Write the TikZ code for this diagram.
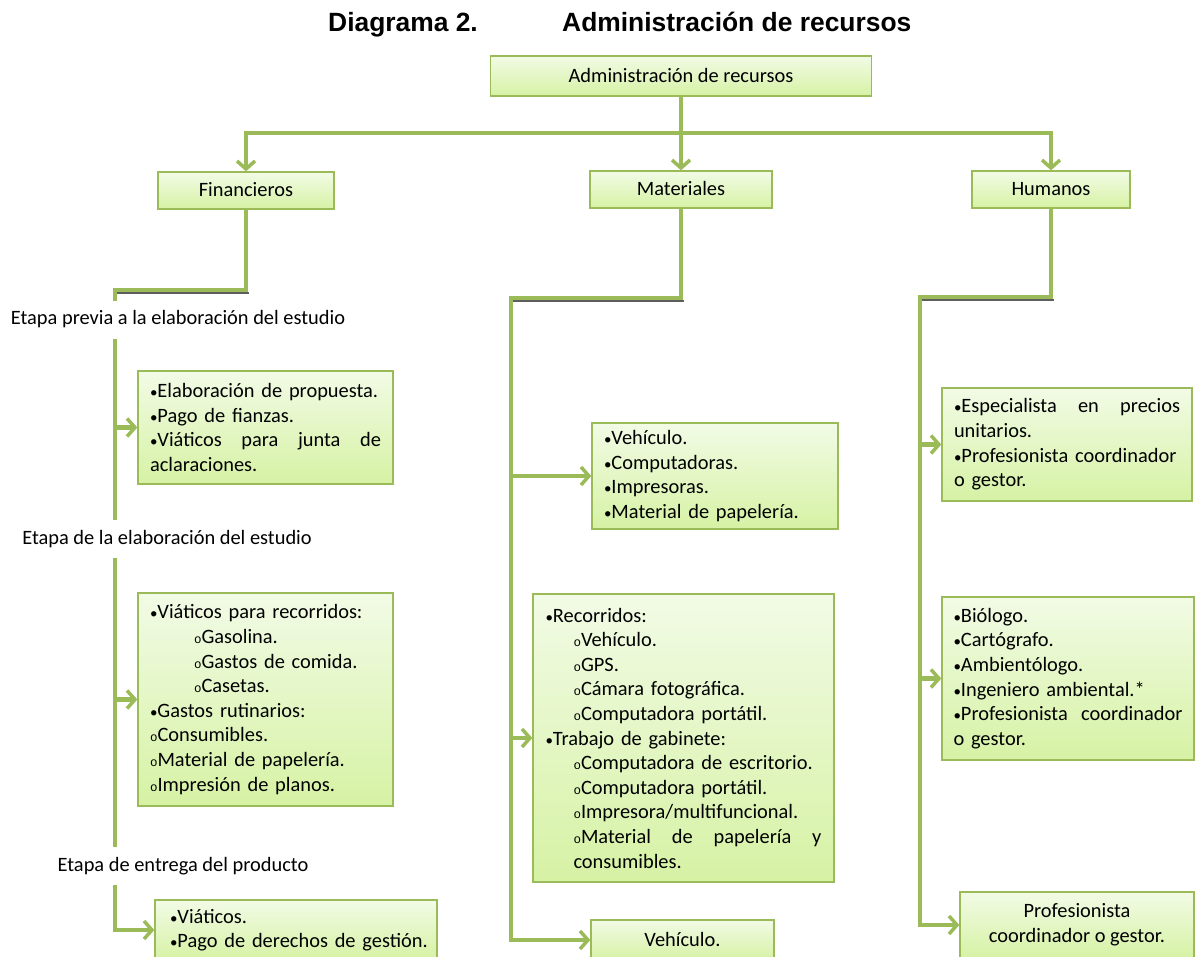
\documentclass[tikz,border=0pt]{standalone}
\usepackage{fontspec}
\setmainfont{Carlito}
\newfontfamily\titlefont{Liberation Sans}
\newfontfamily\monofnt{Liberation Mono}
\usetikzlibrary{arrows.meta,calc}
\definecolor{lg}{HTML}{9BBB59}
\definecolor{boxtop}{HTML}{F2FBE6}
\definecolor{boxbot}{HTML}{D6F2A4}
\definecolor{shd}{HTML}{5E5E5E}
\pgfdeclarelayer{bg}
\pgfsetlayers{bg,main}
\newcommand\ci{{\monofnt\fontsize{12.5}{12.5}\selectfont o}}
\newcommand\bu{{\fontsize{15}{15}\selectfont •}}
\begin{document}
\begin{tikzpicture}[x=1pt,y=-1pt,
  font=\fontsize{20.4}{24.6}\selectfont,
  box/.style={draw=lg, line width=1.3pt, top color=boxtop, bottom color=boxbot,
    inner xsep=12pt, inner ysep=0pt, align=left},
  cbox/.style={box, align=center},
  catbox/.style={cbox, text height=16pt, text depth=3pt, minimum height=37pt},
  conn/.style={draw=lg, line width=4.5pt},
  arr/.style={conn, -{Straight Barb[length=8pt,width=18pt,line width=3.5pt]}},
  shadowline/.style={draw=shd, line width=2.5pt},
  etapa/.style={fill=white, inner xsep=4pt, inner ysep=9pt, text height=15pt, text depth=5pt},
  titletext/.style={font=\titlefont\bfseries\fontsize{26.4}{30}\selectfont, anchor=base west, inner sep=0pt}]
\useasboundingbox (0,0) rectangle (1195,957);

% title
\node[titletext] (t1) at (328,31.5) {Diagrama 2.};
\node[titletext] (t2) at (562,31.5) {Administración de recursos};

% level 0 and 1
\node[catbox, minimum width=381pt, minimum height=40pt] (admin) at (681,76) {Administración de recursos};
\node[catbox, minimum width=176pt] (fin) at (246,190.5) {Financieros};
\node[catbox, minimum width=182pt] (mat) at (681,189.5) {Materiales};
\node[catbox, minimum width=158pt] (hum) at (1051,189.5) {Humanos};

% Financieros
\node[box, minimum height=113pt, text width=231pt] (F1) at (265.5,427.5) {%
\bu Elaboración de propuesta.\\
\bu Pago de fianzas.\\
\bu Viáticos\hfill para\hfill junta\hfill de\\
aclaraciones.};
\node[box, minimum height=213pt, text width=231pt] (F2) at (265.5,699.5) {%
\bu Viáticos para recorridos:\\
\hspace*{44pt}\ci Gasolina.\\
\hspace*{44pt}\ci Gastos de comida.\\
\hspace*{44pt}\ci Casetas.\\
\bu Gastos rutinarios:\\
\ci Consumibles.\\
\ci Material de papelería.\\
\ci Impresión de planos.};
\node[box, minimum height=60pt, text width=264pt, inner xsep=9pt] (F3) at (296,930) {%
\hspace*{6pt}\bu Viáticos.\\
\hspace*{6pt}\bu Pago de derechos de gestión.};

% Materiales
\node[box, minimum height=106pt, text width=222pt] (M1) at (715,476) {%
\bu Vehículo.\\
\bu Computadoras.\\
\bu Impresoras.\\
\bu Material de papelería.};
\node[box, minimum height=288pt, text width=276pt, inner xsep=12.5pt] (M2) at (683.5,738) {%
\bu Recorridos:\\
\hspace*{28pt}\ci Vehículo.\\
\hspace*{28pt}\ci GPS.\\
\hspace*{28pt}\ci Cámara fotográfica.\\
\hspace*{28pt}\ci Computadora portátil.\\
\bu Trabajo de gabinete:\\
\hspace*{28pt}\ci Computadora de escritorio.\\
\hspace*{28pt}\ci Computadora portátil.\\
\hspace*{28pt}\ci Impresora/multifuncional.\\
\hspace*{28pt}\ci Material\hfill de\hfill papelería\hfill y\\
\hspace*{28pt}consumibles.};
\node[catbox, minimum width=183pt, minimum height=40pt] (veh) at (682.5,940) {Vehículo.};

% Humanos
\node[box, minimum height=113pt, text width=226pt] (H1) at (1067,444.5) {%
\bu Especialista\hfill en\hfill precios\\
unitarios.\\
\bu Profesionista coordinador\\
o gestor.};
\node[box, minimum height=163pt, text width=229pt, inner xsep=11.5pt] (H2) at (1068,678.5) {%
\bu Biólogo.\\
\bu Cartógrafo.\\
\bu Ambientólogo.\\
\bu Ingeniero ambiental.*\\
\bu Profesionista\hfill coordinador\\
o gestor.};
\node[cbox, minimum width=234pt, minimum height=66pt] (H3) at (1077,925) {%
Profesionista\\
coordinador o gestor.};

% connectors
\coordinate (bus) at (681,133);
\coordinate (fj) at (115,290);
\coordinate (mj) at (511,298);
\coordinate (hj) at (920,297);
\begin{pgfonlayer}{bg}
\draw[arr] (admin.south) -- (mat.north);
\draw[arr] (bus) -| (fin.north);
\draw[arr] (bus) -| (hum.north);
% shadows of the elbows
\draw[shadowline] ($(fj)+(0,3)$) -- ($(fin.south |- fj)+(2.5,3)$);
\draw[shadowline] ($(mj)+(0,3)$) -- ($(mat.south |- mj)+(2.5,3)$);
\draw[shadowline] ($(hj)+(0,3)$) -- ($(hum.south |- hj)+(2.5,3)$);
% Financieros
\draw[arr] (fin.south) |- (fj) |- (F3.west);
\draw[arr] (F1.west -| fj) -- (F1.west);
\draw[arr] (F2.west -| fj) -- (F2.west);
% Materiales
\draw[arr] (mat.south) |- (mj) |- (veh.west);
\draw[arr] (M1.west -| mj) -- (M1.west);
\draw[arr] (M2.west -| mj) -- (M2.west);
% Humanos
\draw[arr] (hum.south) |- (hj) |- (H3.west);
\draw[arr] (H1.west -| hj) -- (H1.west);
\draw[arr] (H2.west -| hj) -- (H2.west);
\end{pgfonlayer}

% stage labels over the Financieros line
\node[etapa] (e1) at (178,320) {Etapa previa a la elaboración del estudio};
\node[etapa] (e2) at (167,539) {Etapa de la elaboración del estudio};
\node[etapa] (e3) at (183,866) {Etapa de entrega del producto};
\end{tikzpicture}
\end{document}
